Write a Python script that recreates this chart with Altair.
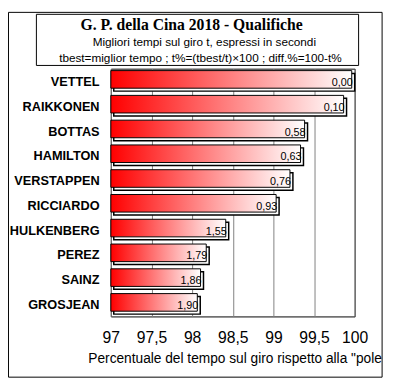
import altair as alt
import pandas as pd

drivers = ["VETTEL", "RAIKKONEN", "BOTTAS", "HAMILTON", "VERSTAPPEN",
           "RICCIARDO", "HULKENBERG", "PEREZ", "SAINZ", "GROSJEAN"]
diff_pct = [0.00, 0.10, 0.58, 0.63, 0.76, 0.93, 1.55, 1.79, 1.86, 1.90]
x_ticks = [97, 97.5, 98, 98.5, 99, 99.5, 100]
title_text = "G. P. della Cina 2018 - Qualifiche"
subtitle_1 = "Migliori tempi sul giro t, espressi in secondi"
subtitle_2 = "tbest=miglior tempo ; t%=(tbest/t)×100 ; diff.%=100-t%"
x_title = 'Percentuale del tempo sul giro rispetto alla "pole'

df = pd.DataFrame({"pilota": drivers, "diff": diff_pct})
df["pct"] = 100 - df["diff"]
df["label"] = df["diff"].map(lambda v: f"{v:.2f}".replace(".", ","))

W, H = 249, 253

y_enc = alt.Y("pilota:N", sort=drivers,
              scale=alt.Scale(paddingInner=0.29, paddingOuter=0.145),
              axis=alt.Axis(title=None, ticks=False, domain=False,
                            labelFont="Liberation Sans", labelFontWeight="bold",
                            labelFontSize=13, labelColor="black",
                            labelPadding=12, labelOffset=1))
x_enc = alt.X("pct:Q", scale=alt.Scale(domain=[97, 100], nice=False, zero=False),
              axis=alt.Axis(values=x_ticks, title=None, grid=True,
                            gridColor="#808080", gridWidth=1, ticks=False,
                            domain=False, labelFont="Liberation Sans",
                            labelFontSize=16, labelColor="black", labelPadding=14,
                            labelFlush=False,
                            labelExpr="replace(format(datum.value, '.1~f'), '.', ',')"))

gradient = alt.Gradient(gradient="linear",
                        stops=[alt.GradientStop(color="#ff0000", offset=0),
                               alt.GradientStop(color="#ffffff", offset=1)],
                        x1=0, x2=1, y1=0, y2=0)

base = alt.Chart(df)
shadow = base.mark_bar(fill="white", stroke="black", strokeWidth=1.5,
                       x2Offset=3, yOffset=1.3).encode(
    x=x_enc, x2=alt.datum(97), y=y_enc)
bars = base.mark_bar(fill=gradient, stroke="black", strokeWidth=1,
                     xOffset=-3, yOffset=-1.7).encode(
    x=x_enc, x2=alt.datum(97), y=y_enc)
labels = base.mark_text(align="right", baseline="middle", dx=-2, dy=2,
                        font="Liberation Sans", fontSize=11, color="black").encode(
    x=x_enc, y=y_enc, text="label:N")

one = pd.DataFrame({"k": [0]})
deco = alt.Chart(one)
frame = deco.mark_rect(fillOpacity=0, stroke="black", strokeWidth=1).encode(
    x=alt.value(-104.5), x2=alt.value(277), y=alt.value(-57.5), y2=alt.value(315))
tbox = deco.mark_rect(fill="white", stroke="black", strokeWidth=1).encode(
    x=alt.value(-76), x2=alt.value(253), y=alt.value(-55.5), y2=alt.value(-3.3))
t1 = deco.mark_text(font="Liberation Serif", fontWeight="bold", fontSize=16,
                    align="center", baseline="middle", color="black").encode(
    x=alt.value(82.5), y=alt.value(-44.5), text=alt.value(title_text))
t2 = deco.mark_text(font="Liberation Sans", fontSize=12, align="center",
                    baseline="middle", color="black").encode(
    x=alt.value(95.5), y=alt.value(-27), text=alt.value(subtitle_1))
t3 = deco.mark_text(font="Liberation Sans", fontSize=12, align="center",
                    baseline="middle", color="black").encode(
    x=alt.value(91.5), y=alt.value(-10.5), text=alt.value(subtitle_2))
xt = deco.mark_text(font="Liberation Sans", fontSize=14, align="left",
                    baseline="middle", color="black").encode(
    x=alt.value(-23), y=alt.value(297), text=alt.value(x_title))

chart = alt.layer(frame, tbox, t1, t2, t3, xt, shadow, bars, labels).properties(
    width=W, height=H,
    padding={"left": 105, "top": 58, "right": 33, "bottom": 64},
    autosize=alt.AutoSizeParams(type="none"),
).configure(background="white").configure_view(stroke="black", strokeWidth=1)

chart.save("out.html", embed_options={"renderer": "svg", "actions": False})
